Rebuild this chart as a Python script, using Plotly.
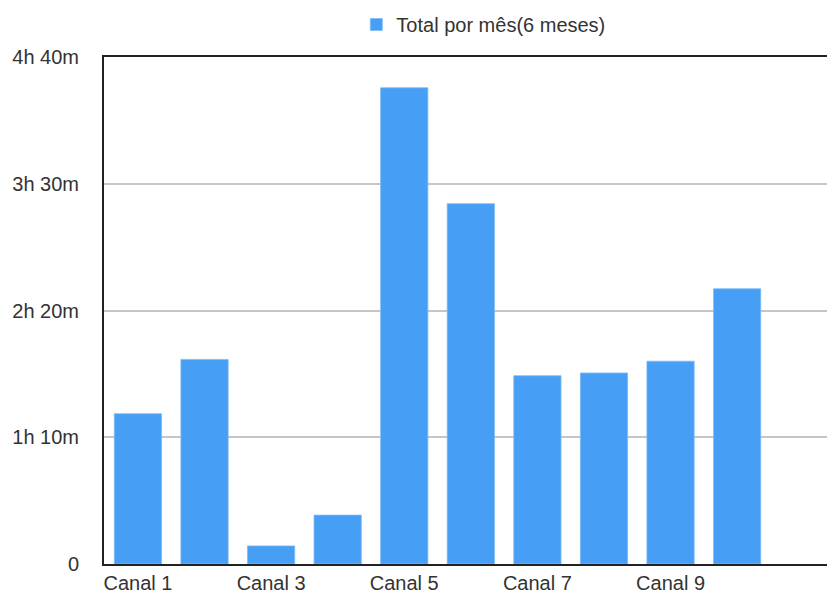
import plotly.graph_objects as go

categories = ["Canal 1", "Canal 2", "Canal 3", "Canal 4", "Canal 5",
              "Canal 6", "Canal 7", "Canal 8", "Canal 9", "Canal 10"]
# total minutes per channel (6 months)
minutes = [83, 113, 10, 27, 263, 199, 104, 105.5, 112, 152]
series_name = "Total por mês(6 meses)"
ytick_vals = [0, 70, 140, 210, 280]
ytick_text = ["0", "1h 10m", "2h 20m", "3h 30m", "4h 40m"]
xtick_shown = ["Canal 1", "Canal 3", "Canal 5", "Canal 7", "Canal 9"]

font_family = "Liberation Sans, Arial, sans-serif"
text_color = "#333333"

fig = go.Figure(
    go.Bar(
        x=categories,
        y=minutes,
        name=series_name,
        marker=dict(color="#479ef5", line=dict(color="#7fbaf6", width=0.8)),
        showlegend=True,
    )
)

fig.update_layout(
    width=827,
    height=594,
    margin=dict(l=104, r=0, t=57, b=27),
    paper_bgcolor="white",
    plot_bgcolor="white",
    bargap=0.29,
    font=dict(family=font_family, size=20, color=text_color),
    showlegend=True,
    legend=dict(
        orientation="h",
        x=0.349,
        xanchor="left",
        y=1.064,
        yanchor="middle",
        font=dict(size=20, color=text_color),
        bgcolor="rgba(0,0,0,0)",
    ),
)

fig.update_xaxes(
    type="category",
    range=[-0.51, 10.35],
    tickmode="array",
    tickvals=xtick_shown,
    ticktext=xtick_shown,
    showgrid=False,
    showline=True,
    linecolor="#222222",
    linewidth=2,
    mirror=True,
    ticks="",
    tickfont=dict(size=20, color=text_color),
)

fig.update_yaxes(
    range=[0, 280],
    tickmode="array",
    tickvals=ytick_vals,
    ticktext=ytick_text,
    showgrid=True,
    gridcolor="#c6c6c6",
    gridwidth=1.5,
    showline=True,
    linecolor="#222222",
    linewidth=2,
    zeroline=False,
    ticks="",
    ticklabelstandoff=19,
    tickfont=dict(size=20, color=text_color),
)

fig.write_html("out.html")
